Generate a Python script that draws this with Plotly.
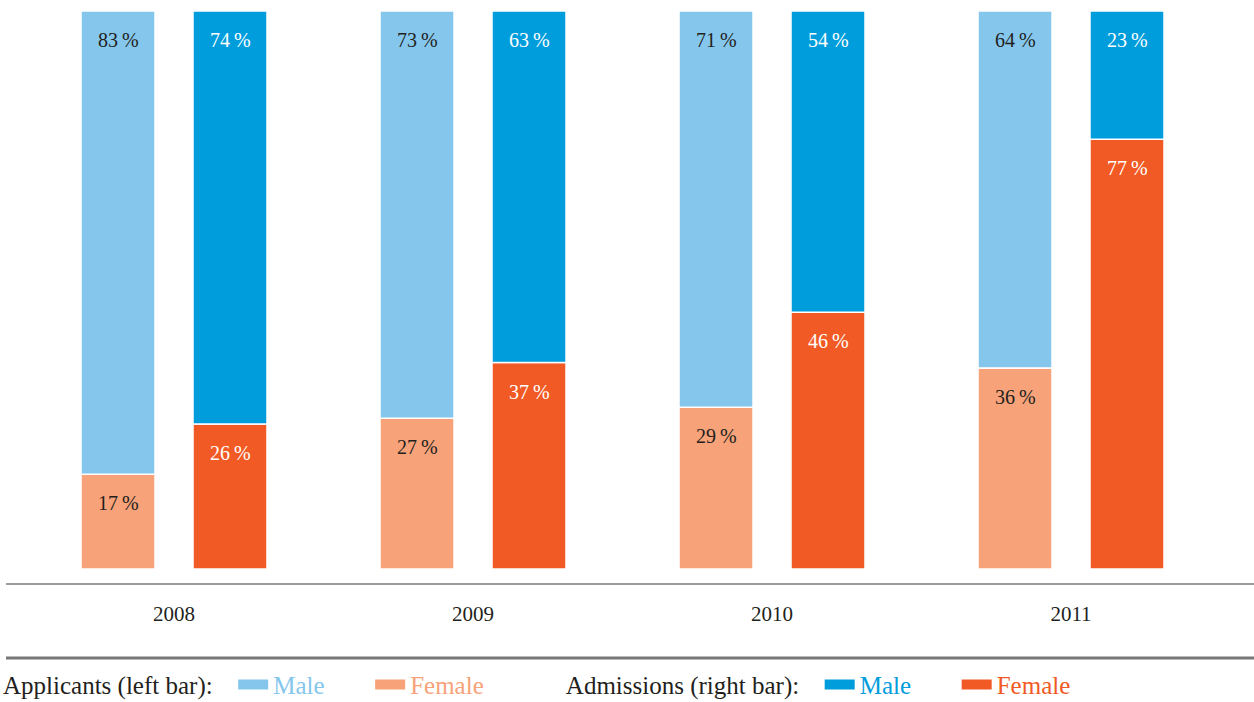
import plotly.graph_objects as go

years = ["2008", "2009", "2010", "2011"]
applicants_male = [83, 73, 71, 64]
applicants_female = [17, 27, 29, 36]
admissions_male = [74, 63, 54, 23]
admissions_female = [26, 37, 46, 77]

C_APP_M = "#85C6ED"
C_APP_F = "#F7A279"
C_ADM_M = "#009DDC"
C_ADM_F = "#F15A24"
DARK = "#231F20"
FONT = "Liberation Serif"

# geometry (in category units)
W = 0.2475
OFF_L = -0.311
OFF_R = 0.0635

fig = go.Figure()

def add_bar(vals, base, color, offset):
    fig.add_trace(go.Bar(
        x=years, y=vals, base=base, width=W, offset=offset,
        marker=dict(color=color, line=dict(color="white", width=1.5)),
        showlegend=False, hoverinfo="skip"))

add_bar(applicants_female, [0] * 4, C_APP_F, OFF_L)
add_bar(applicants_male, applicants_female, C_APP_M, OFF_L)
add_bar(admissions_female, [0] * 4, C_ADM_F, OFF_R)
add_bar(admissions_male, admissions_female, C_ADM_M, OFF_R)

# labels at top of each segment
def add_labels(vals, base, offset, color):
    for i, (v, b) in enumerate(zip(vals, base)):
        fig.add_annotation(
            x=i + offset + W / 2, y=v + b, xref="x", yref="y",
            text=f"{v}\u2009%", showarrow=False, yanchor="middle", yshift=-29,
            font=dict(family=FONT, size=20, color=color))

add_labels(applicants_male, applicants_female, OFF_L, DARK)
add_labels(applicants_female, [0] * 4, OFF_L, DARK)
add_labels(admissions_male, admissions_female, OFF_R, "white")
add_labels(admissions_female, [0] * 4, OFF_R, "white")

# legend entries
def leg(name, color, legend):
    fig.add_trace(go.Scatter(
        x=[None], y=[None], mode="lines",
        line=dict(color=color, width=12),
        name=f"<span style='color:{color}'>{name}</span>",
        legend=legend, hoverinfo="skip"))

leg("Male", C_APP_M, "legend")
leg("Female", C_APP_F, "legend")
leg("Male", C_ADM_M, "legend2")
leg("Female", C_ADM_F, "legend2")

legend_common = dict(
    orientation="h", yanchor="middle", xanchor="left",
    bgcolor="rgba(0,0,0,0)", borderwidth=0,
    font=dict(family=FONT, size=25, color=DARK),
    itemclick=False, itemdoubleclick=False,
    entrywidth=92, entrywidthmode="pixels",
)

fig.update_layout(
    width=1254, height=702,
    margin=dict(l=6, r=0, t=11, b=119, autoexpand=False),
    paper_bgcolor="white", plot_bgcolor="white",
    barmode="overlay",
    xaxis=dict(
        type="category", range=[-0.5619, 3.612],
        showgrid=False, zeroline=False,
        showline=True, linecolor="#9B9B9B", linewidth=2,
        ticks="", ticklabelstandoff=11,
        tickfont=dict(family=FONT, size=21, color=DARK),
        fixedrange=True,
    ),
    yaxis=dict(
        range=[-2.509, 100], visible=False, fixedrange=True,
    ),
    legend=dict(
        x=-0.004, y=-0.178,
        title=dict(text="Applicants (left bar):  ", side="left",
                   font=dict(family=FONT, size=25, color=DARK)),
        **legend_common),
    legend2=dict(
        x=0.447, y=-0.178,
        title=dict(text="Admissions (right bar):  ", side="left",
                   font=dict(family=FONT, size=25, color=DARK)),
        **legend_common),
    shapes=[dict(type="line", xref="paper", yref="paper",
                 x0=0, x1=1, y0=-0.131, y1=-0.131,
                 line=dict(color="#777777", width=3))],
)

fig.write_html("out.html")
